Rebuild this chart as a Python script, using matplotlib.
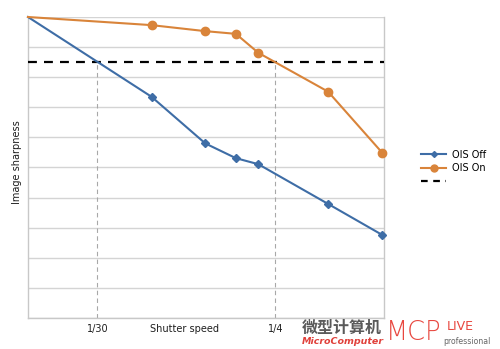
import matplotlib
matplotlib.use("Agg")
import matplotlib.pyplot as plt
from matplotlib.lines import Line2D

# Shutter speed axis positions (relative scale 0-100) and sharpness scores
shutter_pos = [0, 34.7, 49.8, 58.4, 64.7, 84.3, 99.5]
ois_off = [10.0, 7.35, 5.80, 5.31, 5.11, 3.79, 2.76]
ois_on = [10.0, 9.73, 9.53, 9.44, 8.81, 7.52, 5.49]
threshold = 8.5
speed_marks = [19.5, 69.5]
speed_labels = ["1/30", "1/4"]
series_labels = ["OIS Off", "OIS On", ""]

BLUE = "#3E6DA6"
ORANGE = "#D9843A"
GRID = "#D4D4D4"
TXT = "#1E1E1E"
W, H = 500, 349

plt.rcParams["font.family"] = ["DejaVu Sans"]
fig = plt.figure(figsize=(W / 100, H / 100), dpi=100)
ax = fig.add_axes([28 / W, 1 - 318 / H, (384 - 28) / W, (318 - 17) / H])

ax.set_xlim(0, 100)
ax.set_ylim(0, 10)
ax.set_yticks(range(0, 11))
ax.yaxis.grid(True, color=GRID, lw=1)
ax.set_axisbelow(True)
ax.tick_params(left=False, bottom=False, labelleft=False, labelbottom=False)
for s in ax.spines.values():
    s.set_color("#C8C8C8")
    s.set_linewidth(1)
ax.spines["top"].set_visible(False)

# Drop lines from the threshold crossings
for xm in speed_marks:
    ax.plot([xm, xm], [0, threshold], color="#A8A8A8", lw=0.8, ls=(0, (4, 3)))

ax.axhline(threshold, color="black", lw=1.6, ls=(0, (4, 3.2)), zorder=3)

ax.plot(shutter_pos, ois_off, color=BLUE, lw=1.5, marker="D", ms=4,
        markevery=slice(1, None), zorder=4, clip_on=False)
ax.plot(shutter_pos, ois_on, color=ORANGE, lw=1.5, marker="o", ms=6,
        markevery=slice(1, None), zorder=4, clip_on=False)

for xm, lab in zip(speed_marks, speed_labels):
    ax.text(xm, -0.36, lab, ha="center", va="center", fontsize=7,
            color=TXT, clip_on=False)
ax.text(44, -0.36, "Shutter speed", ha="center", va="center", fontsize=7,
        color=TXT, clip_on=False)
fig.text(17 / W, 1 - 162 / H, "Image sharpness", rotation=90, ha="center",
         va="center", fontsize=7, color=TXT)

handles = [
    Line2D([], [], color=BLUE, lw=1.5, marker="D", ms=3),
    Line2D([], [], color=ORANGE, lw=1.5, marker="o", ms=5),
    Line2D([], [], color="black", lw=1.6, ls=(0, (3, 2.5))),
]
fig.legend(handles, series_labels, loc="center left",
           bbox_to_anchor=(416 / W, 1 - 168 / H), frameon=False,
           fontsize=7, handlelength=2.6, handletextpad=0.6,
           labelspacing=0.35, borderpad=0)

# Publisher mark
fig.text(302 / W, 1 - 328 / H, "微型计算机", fontsize=11.5, fontweight="bold",
         color="#5A5A5A", family=["Noto Sans CJK SC", "DejaVu Sans"],
         ha="left", va="center")
fig.text(302 / W, 1 - 342 / H, "MicroComputer", fontsize=6.8, style="italic",
         fontweight="bold", color="#E0403A", ha="left", va="center")
fig.text(386 / W, 1 - 333 / H, "MCP", fontsize=18.5, color="#E8473F",
         ha="left", va="center", family="DejaVu Sans", fontweight="light")
fig.text(447 / W, 1 - 327 / H, "LIVE", fontsize=9, color="#E8473F",
         ha="left", va="center")
fig.text(443 / W, 1 - 342 / H, "professional", fontsize=5.6, color="#666666",
         ha="left", va="center")

fig.savefig("out.png", dpi=100)
